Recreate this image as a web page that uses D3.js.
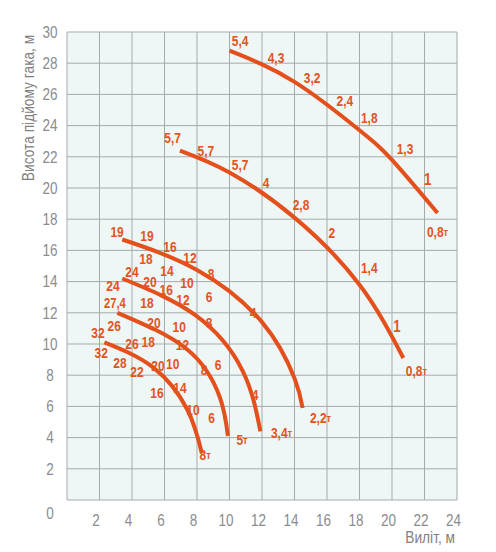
<!DOCTYPE html>
<html>
<head>
<meta charset="utf-8">
<script src="https://cdn.jsdelivr.net/npm/d3@7"></script>
<style>
  body { margin: 0; background: #fff; }
  text { font-family: "Liberation Sans", Arial, sans-serif; }
</style>
</head>
<body>
<div id="chart"></div>
<script>
// reach curves (radius m, hook height m)
var curve54 = [[10.0,28.8],[14,26.8],[18,23.7],[20,21.8],[22.8,18.4]];
var curve57 = [[6.95,22.4],[10,21.0],[14,18.1],[18,13.8],[20.7,9.1]];
var curve19 = [[3.4,16.7],[8,14.75],[12,11.4],[14,7.8],[14.5,5.9]];
var curve24 = [[3.4,14.2],[7.9,11.85],[10.8,8.3],[11.9,4.4]];
var curve27 = [[3.1,12.0],[7.4,9.65],[9.4,6.6],[9.9,4.1]];
var curve32 = [[2.3,10.1],[5.3,8.5],[7.4,5.8],[8.3,3.0]];
var curves = [curve54, curve57, curve19, curve24, curve27, curve32];

// load labels: text, radius, height (centre of label)
var loadLabels = [
  ["5,4",10.65,29.4],["4,3",12.86,28.3],["3,2",15.08,27.05],["2,4",17.1,25.6],
  ["1,8",18.6,24.5],["1,3",20.8,22.5],["1",22.2,20.6],["0,8т",22.8,17.2],
  ["5,7",6.5,23.2],["5,7",8.55,22.4],["5,7",10.65,21.5],["4",12.25,20.3],
  ["2,8",14.4,18.9],["2",16.3,17.1],["1,4",18.6,14.9],["1",20.3,11.15],["0,8т",21.5,8.3],
  ["19",3.08,17.2],["19",4.92,16.9],["16",6.34,16.2],["12",7.57,15.5],["8",8.86,14.5],
  ["18",4.86,15.45],["14",6.15,14.7],["10",7.38,13.9],["6",8.74,13.0],
  ["24",4.0,14.6],["24",2.83,13.7],["20",5.1,14.0],["16",6.1,13.45],["12",7.14,12.8],["8",8.74,11.35],
  ["27,4",2.95,12.6],["18",4.92,12.6],["20",5.35,11.35],["10",6.9,11.1],
  ["26",2.9,11.15],["32",1.9,10.7],["26",4.0,10.0],["18",5.0,10.1],["12",7.1,9.95],
  ["32",2.1,9.4],["28",3.26,8.8],["22",4.3,8.2],["20",5.6,8.6],["10",6.5,8.7],["8",8.43,8.33],["6",9.3,8.65],
  ["16",5.54,6.86],["14",6.95,7.18],["10",7.75,5.77],["6",8.9,5.26],
  ["4",11.45,12.0],["4",11.57,6.7],
  ["8т",8.5,2.9],["5т",10.77,3.85],["3,4т",13.2,4.3],["2,2т",15.6,5.3]
];

var xTicks = [2,4,6,8,10,12,14,16,18,20,22,24];
var yTicks = [0,2,4,6,8,10,12,14,16,18,20,22,24,26,28,30];

var W = 496, H = 552;
var margin = {top: 32, left: 67, right: 39, bottom: 52};

var svg = d3.select("#chart").append("svg")
  .attr("width", W).attr("height", H);

var x = d3.scaleLinear().domain([0, 24]).range([margin.left, W - margin.right]);
var y = d3.scaleLinear().domain([0, 30]).range([H - margin.bottom, margin.top]);

// plot background
svg.append("rect")
  .attr("x", x(0)).attr("y", y(30))
  .attr("width", x(24) - x(0)).attr("height", y(0) - y(30))
  .attr("fill", "#eef6f6");

// grid
svg.append("g").selectAll("line").data(d3.range(0, 25, 2)).enter().append("line")
  .attr("x1", function(d){ return x(d); }).attr("x2", function(d){ return x(d); })
  .attr("y1", y(0)).attr("y2", y(30))
  .attr("stroke", "#a3abab").attr("stroke-width", 1);
svg.append("g").selectAll("line").data(d3.range(0, 31, 2)).enter().append("line")
  .attr("y1", function(d){ return y(d); }).attr("y2", function(d){ return y(d); })
  .attr("x1", x(0)).attr("x2", x(24))
  .attr("stroke", "#a3abab").attr("stroke-width", 1);

// axes (only labels shown)
var xAxis = svg.append("g")
  .attr("transform", "translate(0," + y(0) + ")")
  .call(d3.axisBottom(x).tickValues(xTicks).tickSize(0).tickPadding(14));
var yAxis = svg.append("g")
  .attr("transform", "translate(" + (x(0) - 17) + ",0)")
  .call(d3.axisLeft(y).tickValues(yTicks).tickSize(0).tickPadding(0));
[xAxis, yAxis].forEach(function(a){
  a.select(".domain").remove();
  a.selectAll("text")
    .attr("font-family", "'Liberation Sans', Arial, sans-serif")
    .attr("font-size", 16.5).attr("fill", "#8c8c8c")
    .attr("transform", "scale(0.82,1)");
});
xAxis.selectAll("text").attr("dx", -5);
yAxis.selectAll("text").attr("text-anchor", "middle");
yAxis.selectAll(".tick").filter(function(d){ return d === 0; })
  .select("text").attr("dy", "1.15em");

// axis titles
svg.append("text")
  .attr("transform", "translate(28," + 108 + ") rotate(-90) scale(0.86,1)")
  .attr("text-anchor", "middle").attr("dominant-baseline", "central")
  .attr("font-size", 16).attr("fill", "#808080")
  .text("Висота підйому гака, м");
svg.append("text")
  .attr("transform", "translate(" + (x(24) - 2) + "," + (y(0) + 43) + ") scale(0.86,1)")
  .attr("text-anchor", "end")
  .attr("font-size", 16).attr("fill", "#808080")
  .text("Виліт, м");

// curves
var line = d3.line()
  .x(function(d){ return x(d[0]); })
  .y(function(d){ return y(d[1]); })
  .curve(d3.curveNatural);
svg.append("g").selectAll("path").data(curves).enter().append("path")
  .attr("d", line)
  .attr("fill", "none")
  .attr("stroke", "#e4501c")
  .attr("stroke-width", 4);

// load labels
var lbl = svg.append("g").selectAll("text").data(loadLabels).enter().append("text")
  .attr("transform", function(d){
    return "translate(" + x(d[1]) + "," + y(d[2]) + ") scale(0.8,1)";
  })
  .attr("text-anchor", "middle")
  .attr("dominant-baseline", "central")
  .attr("font-size", function(d){ return d[0] === "1" ? 16.5 : (d[0] === "27,4" ? 14 : 15); })
  .attr("font-weight", "bold")
  .attr("fill", "#e2541f");
lbl.each(function(d){
  var t = d3.select(this);
  if (d[0].slice(-1) === "т") {
    t.append("tspan").text(d[0].slice(0, -1));
    t.append("tspan").attr("font-size", 11.5).text("т");
  } else {
    t.text(d[0]);
  }
});
</script>
</body>
</html>
